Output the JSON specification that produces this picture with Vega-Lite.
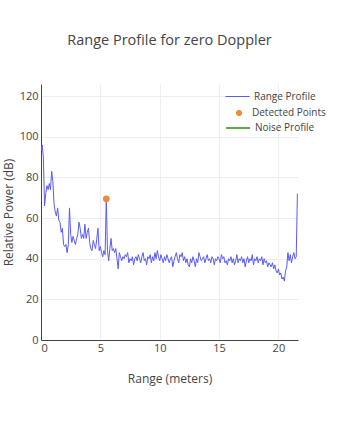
{
  "$schema": "https://vega.github.io/schema/vega-lite/v6.json",
  "width": 257,
  "height": 256,
  "autosize": {"type": "none"},
  "padding": {"left": 41, "top": 84, "right": 54, "bottom": 85},
  "background": "white",
  "title": {"text": "Range Profile for zero Doppler", "font": "Open Sans", "fontSize": 14.5, "fontWeight": "normal", "color": "#444", "anchor": "middle", "offset": 36},
  "config": {
    "view": {"stroke": null},
    "font": "Open Sans",
    "axis": {"gridColor": "#eeeeee", "domainColor": "#444", "ticks": false, "labelColor": "#444", "titleColor": "#444", "labelFont": "Open Sans", "titleFont": "Open Sans", "labelFontSize": 11, "titleFontSize": 12, "titleFontWeight": "normal"},
    "legend": {"labelFont": "Open Sans", "labelFontSize": 10, "labelColor": "#444", "orient": "none", "title": null}
  },
  "datasets": {
    "profile": [
      {"range": 0.0, "power": 93}, {"range": 0.1, "power": 96}, {"range": 0.2, "power": 90}, {"range": 0.3, "power": 66}, {"range": 0.4, "power": 72},
      {"range": 0.5, "power": 76}, {"range": 0.6, "power": 74}, {"range": 0.7, "power": 77}, {"range": 0.8, "power": 74}, {"range": 0.9, "power": 83},
      {"range": 1.0, "power": 78}, {"range": 1.1, "power": 67}, {"range": 1.2, "power": 63}, {"range": 1.3, "power": 61}, {"range": 1.4, "power": 65},
      {"range": 1.5, "power": 59}, {"range": 1.6, "power": 58}, {"range": 1.7, "power": 53}, {"range": 1.8, "power": 55}, {"range": 1.9, "power": 47},
      {"range": 2.0, "power": 46}, {"range": 2.1, "power": 47}, {"range": 2.2, "power": 43}, {"range": 2.3, "power": 47}, {"range": 2.4, "power": 65},
      {"range": 2.5, "power": 52}, {"range": 2.6, "power": 48}, {"range": 2.7, "power": 51}, {"range": 2.8, "power": 49}, {"range": 2.9, "power": 47},
      {"range": 3.0, "power": 50}, {"range": 3.1, "power": 52}, {"range": 3.2, "power": 58}, {"range": 3.3, "power": 55}, {"range": 3.4, "power": 50},
      {"range": 3.5, "power": 52}, {"range": 3.6, "power": 50}, {"range": 3.7, "power": 57}, {"range": 3.8, "power": 50}, {"range": 3.9, "power": 53},
      {"range": 4.0, "power": 55}, {"range": 4.1, "power": 48}, {"range": 4.2, "power": 45}, {"range": 4.3, "power": 44}, {"range": 4.4, "power": 49},
      {"range": 4.5, "power": 47}, {"range": 4.6, "power": 45}, {"range": 4.7, "power": 50}, {"range": 4.8, "power": 55}, {"range": 4.9, "power": 44},
      {"range": 5.0, "power": 46}, {"range": 5.1, "power": 43}, {"range": 5.2, "power": 41}, {"range": 5.3, "power": 44}, {"range": 5.4, "power": 42},
      {"range": 5.5, "power": 69.5}, {"range": 5.6, "power": 44}, {"range": 5.7, "power": 39}, {"range": 5.8, "power": 45}, {"range": 5.9, "power": 50},
      {"range": 6.0, "power": 44}, {"range": 6.1, "power": 45}, {"range": 6.2, "power": 43}, {"range": 6.3, "power": 45}, {"range": 6.4, "power": 40},
      {"range": 6.5, "power": 35}, {"range": 6.6, "power": 43}, {"range": 6.7, "power": 41}, {"range": 6.8, "power": 39}, {"range": 6.9, "power": 41},
      {"range": 7.0, "power": 40}, {"range": 7.1, "power": 42}, {"range": 7.2, "power": 41}, {"range": 7.3, "power": 43}, {"range": 7.4, "power": 38},
      {"range": 7.5, "power": 40}, {"range": 7.6, "power": 39}, {"range": 7.7, "power": 41}, {"range": 7.8, "power": 37}, {"range": 7.9, "power": 40},
      {"range": 8.0, "power": 41}, {"range": 8.1, "power": 39}, {"range": 8.2, "power": 42}, {"range": 8.3, "power": 40}, {"range": 8.4, "power": 38},
      {"range": 8.5, "power": 41}, {"range": 8.6, "power": 43}, {"range": 8.7, "power": 39}, {"range": 8.8, "power": 40}, {"range": 8.9, "power": 37},
      {"range": 9.0, "power": 41}, {"range": 9.1, "power": 40}, {"range": 9.2, "power": 42}, {"range": 9.3, "power": 38}, {"range": 9.4, "power": 41},
      {"range": 9.5, "power": 39}, {"range": 9.6, "power": 43}, {"range": 9.7, "power": 40}, {"range": 9.8, "power": 44}, {"range": 9.9, "power": 41},
      {"range": 10.0, "power": 39}, {"range": 10.1, "power": 42}, {"range": 10.2, "power": 40}, {"range": 10.3, "power": 38}, {"range": 10.4, "power": 41},
      {"range": 10.5, "power": 39}, {"range": 10.6, "power": 42}, {"range": 10.7, "power": 40}, {"range": 10.8, "power": 38}, {"range": 10.9, "power": 40},
      {"range": 11.0, "power": 41}, {"range": 11.1, "power": 36}, {"range": 11.2, "power": 39}, {"range": 11.3, "power": 41}, {"range": 11.4, "power": 43},
      {"range": 11.5, "power": 40}, {"range": 11.6, "power": 38}, {"range": 11.7, "power": 42}, {"range": 11.8, "power": 41}, {"range": 11.9, "power": 43},
      {"range": 12.0, "power": 39}, {"range": 12.1, "power": 41}, {"range": 12.2, "power": 38}, {"range": 12.3, "power": 40}, {"range": 12.4, "power": 37},
      {"range": 12.5, "power": 36}, {"range": 12.6, "power": 40}, {"range": 12.7, "power": 38}, {"range": 12.8, "power": 41}, {"range": 12.9, "power": 39},
      {"range": 13.0, "power": 36}, {"range": 13.1, "power": 40}, {"range": 13.2, "power": 38}, {"range": 13.3, "power": 43}, {"range": 13.4, "power": 41},
      {"range": 13.5, "power": 39}, {"range": 13.6, "power": 40}, {"range": 13.7, "power": 41}, {"range": 13.8, "power": 38}, {"range": 13.9, "power": 40},
      {"range": 14.0, "power": 42}, {"range": 14.1, "power": 39}, {"range": 14.2, "power": 40}, {"range": 14.3, "power": 38}, {"range": 14.4, "power": 41},
      {"range": 14.5, "power": 40}, {"range": 14.6, "power": 37}, {"range": 14.7, "power": 40}, {"range": 14.8, "power": 39}, {"range": 14.9, "power": 41},
      {"range": 15.0, "power": 40}, {"range": 15.1, "power": 38}, {"range": 15.2, "power": 42}, {"range": 15.3, "power": 40}, {"range": 15.4, "power": 41},
      {"range": 15.5, "power": 38}, {"range": 15.6, "power": 39}, {"range": 15.7, "power": 37}, {"range": 15.8, "power": 40}, {"range": 15.9, "power": 39},
      {"range": 16.0, "power": 41}, {"range": 16.1, "power": 38}, {"range": 16.2, "power": 40}, {"range": 16.3, "power": 37}, {"range": 16.4, "power": 39},
      {"range": 16.5, "power": 42}, {"range": 16.6, "power": 38}, {"range": 16.7, "power": 40}, {"range": 16.8, "power": 39}, {"range": 16.9, "power": 41},
      {"range": 17.0, "power": 38}, {"range": 17.1, "power": 40}, {"range": 17.2, "power": 36}, {"range": 17.3, "power": 39}, {"range": 17.4, "power": 41},
      {"range": 17.5, "power": 38}, {"range": 17.6, "power": 40}, {"range": 17.7, "power": 39}, {"range": 17.8, "power": 42}, {"range": 17.9, "power": 37},
      {"range": 18.0, "power": 40}, {"range": 18.1, "power": 39}, {"range": 18.2, "power": 41}, {"range": 18.3, "power": 38}, {"range": 18.4, "power": 40},
      {"range": 18.5, "power": 39}, {"range": 18.6, "power": 41}, {"range": 18.7, "power": 37}, {"range": 18.8, "power": 40}, {"range": 18.9, "power": 38},
      {"range": 19.0, "power": 39}, {"range": 19.1, "power": 36}, {"range": 19.2, "power": 38}, {"range": 19.3, "power": 37}, {"range": 19.4, "power": 36},
      {"range": 19.5, "power": 38}, {"range": 19.6, "power": 35}, {"range": 19.7, "power": 37}, {"range": 19.8, "power": 34}, {"range": 19.9, "power": 33},
      {"range": 20.0, "power": 35}, {"range": 20.1, "power": 32}, {"range": 20.2, "power": 33}, {"range": 20.3, "power": 30}, {"range": 20.4, "power": 31},
      {"range": 20.5, "power": 29}, {"range": 20.6, "power": 34}, {"range": 20.7, "power": 36}, {"range": 20.8, "power": 43}, {"range": 20.9, "power": 39},
      {"range": 21.0, "power": 42}, {"range": 21.1, "power": 38}, {"range": 21.2, "power": 41}, {"range": 21.3, "power": 43}, {"range": 21.4, "power": 40},
      {"range": 21.5, "power": 41}, {"range": 21.6, "power": 72}
    ],
    "detected": [
      {"range": 5.5, "power": 69.5}
    ],
    "noise": []
  },
  "layer": [
    {
      "data": {"name": "profile"},
      "mark": {"type": "line", "strokeWidth": 1, "clip": true},
      "encoding": {
        "x": {"field": "range", "type": "quantitative", "scale": {"domain": [0, 21.65], "nice": false, "zero": false},
              "axis": {"title": "Range (meters)", "values": [0, 5, 10, 15, 20], "labelPadding": 2, "titlePadding": 20}},
        "y": {"field": "power", "type": "quantitative", "scale": {"domain": [0, 126], "nice": false},
              "axis": {"title": "Relative Power (dB)", "values": [0, 20, 40, 60, 80, 100, 120], "labelPadding": 3, "titlePadding": 4}},
        "color": {"datum": "Range Profile", "type": "nominal",
          "scale": {"range": ["#5b5bf5"]},
          "legend": {"legendX": 184, "legendY": 0, "symbolType": "stroke", "symbolSize": 576, "symbolStrokeWidth": 1, "labelOffset": 4}
        }
      }
    },
    {
      "data": {"name": "noise"},
      "mark": {"type": "line", "strokeWidth": 2},
      "encoding": {
        "x": {"field": "range", "type": "quantitative"},
        "y": {"field": "power", "type": "quantitative"},
        "stroke": {"datum": "Noise Profile", "type": "nominal",
          "scale": {"range": ["#63a84a"]},
          "legend": {"legendX": 184, "legendY": 31, "symbolType": "stroke", "symbolSize": 576, "symbolStrokeWidth": 2, "labelOffset": 4}
        }
      }
    },
    {
      "data": {"name": "detected"},
      "mark": {"type": "point", "filled": true, "size": 45, "opacity": 1},
      "encoding": {
        "x": {"field": "range", "type": "quantitative"},
        "y": {"field": "power", "type": "quantitative"},
        "fill": {"datum": "Detected Points", "type": "nominal",
          "scale": {"range": ["#f0883b"]},
          "legend": {"legendX": 193, "legendY": 24, "symbolType": "circle", "symbolSize": 36, "symbolOpacity": 1, "labelOffset": 8}
        }
      }
    }
  ]
}
